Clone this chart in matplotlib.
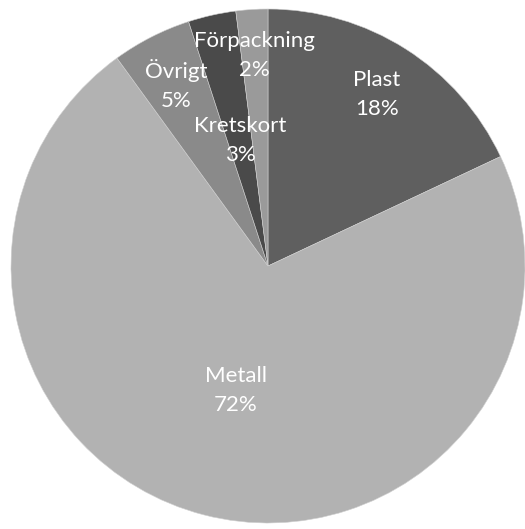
import numpy as np
import matplotlib.pyplot as plt

labels = ["Plast", "Metall", "Övrigt", "Kretskort", "Förpackning"]
shares = [18, 72, 5, 3, 2]
colors = ["#5f5f5f", "#b2b2b2", "#8a8a8a", "#4a4a4a", "#9a9a9a"]

# radial position of each label (fraction of radius)
label_r = [0.79, 0.50, 0.79, 0.50, 0.82]

plt.rcParams["font.family"] = ["Lato", "DejaVu Sans"]

fig = plt.figure(figsize=(5.25, 5.29), dpi=100)
ax = fig.add_axes([11 / 525, 6 / 529, 514 / 525, 514 / 529])

wedges, _ = ax.pie(shares, colors=colors, startangle=90, counterclock=False,
                   wedgeprops=dict(edgecolor="#d0d0d0", linewidth=0.4))

for w, lab, val, r in zip(wedges, labels, shares, label_r):
    mid = np.deg2rad((w.theta1 + w.theta2) / 2)
    ax.text(r * np.cos(mid), r * np.sin(mid), f"{lab}\n{val}%",
            ha="center", va="center", color="white", fontsize=16,
            linespacing=1.6)

ax.set_xlim(-1, 1)
ax.set_ylim(-1, 1)
ax.set_aspect("equal")
ax.axis("off")

fig.savefig("out.png", dpi=100)
